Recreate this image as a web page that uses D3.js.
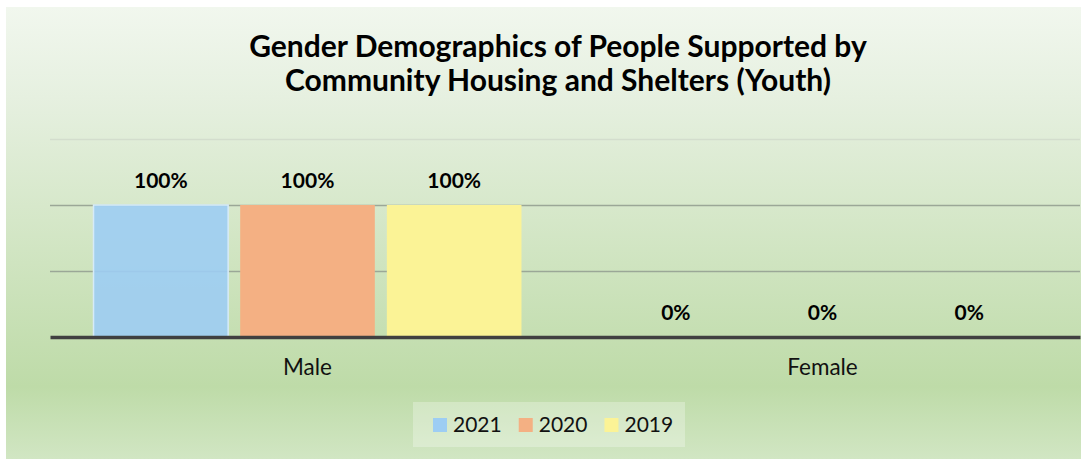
<!DOCTYPE html>
<html>
<head>
<meta charset="utf-8">
<script src="https://cdn.jsdelivr.net/npm/d3@7"></script>
<style>
  body { margin: 0; background: #ffffff; }
  svg text { font-family: Lato, "Open Sans", sans-serif; }
</style>
</head>
<body>
<svg id="chart" width="1081" height="459"></svg>
<script>
// Chart data
const categories = ["Male", "Female"];
const seriesNames = ["2021", "2020", "2019"];
const values2021 = [1, 0];
const values2020 = [1, 0];
const values2019 = [1, 0];
const yTicks = [0, 0.5, 1, 1.5];
const titleLines = [
  "Gender Demographics of People Supported by",
  "Community Housing and Shelters (Youth)"
];

const seriesValues = [values2021, values2020, values2019];
const seriesColors = ["#9dcdf3", "#f4b083", "#fbf396"];

const svg = d3.select("#chart");
const W = 1081, H = 459;

// Background panel with vertical green gradient
const defs = svg.append("defs");
const grad = defs.append("linearGradient")
  .attr("id", "bg").attr("x1", 0).attr("y1", 0).attr("x2", 0).attr("y2", 1);
grad.append("stop").attr("offset", "0%").attr("stop-color", "#f1f7ee");
grad.append("stop").attr("offset", "20%").attr("stop-color", "#e6f0e0");
grad.append("stop").attr("offset", "84%").attr("stop-color", "#bedba8");
grad.append("stop").attr("offset", "100%").attr("stop-color", "#d1e6c3");

svg.append("rect")
  .attr("x", 6).attr("y", 7).attr("width", W - 6).attr("height", H - 7)
  .attr("fill", "url(#bg)");

// Plot geometry
const plot = { left: 50, right: 1080, top: 139, bottom: 337 };

const x0 = d3.scaleBand()
  .domain(categories)
  .range([plot.left, plot.right])
  .paddingInner(0.169)
  .paddingOuter(0.0845);

const x1 = d3.scaleBand()
  .domain(seriesNames)
  .range([0, x0.bandwidth()])
  .paddingInner(0.082)
  .paddingOuter(0);

const y = d3.scaleLinear()
  .domain([0, 1.5])
  .range([plot.bottom, plot.top]);

// Horizontal gridlines
const grid = svg.append("g")
  .attr("transform", `translate(${plot.left},0)`)
  .call(d3.axisLeft(y).tickValues(yTicks).tickSize(-(plot.right - plot.left)).tickFormat(""));
grid.select(".domain").remove();
grid.selectAll(".tick line")
  .attr("stroke", d => d === 1.5 ? "#d3ddcd" : "#9ba797")
  .attr("stroke-width", 1.5);
grid.selectAll(".tick").filter(d => d === 0).remove();

// Bars
const groups = svg.append("g").selectAll("g")
  .data(categories)
  .join("g")
  .attr("transform", d => `translate(${x0(d)},0)`);

groups.selectAll("rect")
  .data((c, ci) => seriesNames.map((s, si) => ({ s, si, v: seriesValues[si][ci] })))
  .join("rect")
  .attr("x", d => x1(d.s))
  .attr("y", d => y(d.v))
  .attr("width", x1.bandwidth())
  .attr("height", d => y(0) - y(d.v))
  .attr("fill", d => seriesColors[d.si])
  .attr("fill-opacity", d => d.si === 0 ? 0.9 : 1)
  .attr("stroke", d => d.si === 0 ? "#d6ebf8" : "none")
  .attr("stroke-width", d => d.si === 0 ? 1.5 : 0);

// Value labels
groups.selectAll("text.val")
  .data((c, ci) => seriesNames.map((s, si) => ({ s, si, v: seriesValues[si][ci] })))
  .join("text")
  .attr("class", "val")
  .attr("x", d => x1(d.s) + x1.bandwidth() / 2)
  .attr("y", d => y(d.v) - 17)
  .attr("text-anchor", "middle")
  .attr("font-size", 21)
  .attr("font-weight", 700)
  .attr("fill", "#000")
  .text(d => d3.format(".0%")(d.v));

// Category axis with heavy baseline
const xAxis = svg.append("g")
  .attr("transform", `translate(0,${plot.bottom})`)
  .call(d3.axisBottom(x0).tickSize(0).tickPadding(22));
xAxis.select(".domain")
  .attr("stroke", "#404040")
  .attr("stroke-width", 3.5);
xAxis.selectAll("text")
  .attr("font-size", 22.5)
  .attr("fill", "#111")
  .style("font-family", "Lato, sans-serif");

// Title
svg.append("text")
  .attr("x", 558).attr("y", 57)
  .attr("text-anchor", "middle")
  .attr("font-size", 30).attr("font-weight", 700).attr("fill", "#000")
  .selectAll("tspan")
  .data(titleLines)
  .join("tspan")
  .attr("x", 558)
  .attr("dy", (d, i) => i === 0 ? 0 : 34)
  .text(d => d);

// Legend
const legend = svg.append("g");
legend.append("rect")
  .attr("x", 413).attr("y", 402).attr("width", 272).attr("height", 45)
  .attr("fill", "#ffffff").attr("fill-opacity", 0.28);

let lx = 433;
seriesNames.forEach((s, i) => {
  legend.append("rect")
    .attr("x", lx).attr("y", 418).attr("width", 14).attr("height", 14)
    .attr("fill", seriesColors[i]);
  const t = legend.append("text")
    .attr("x", lx + 20).attr("y", 432)
    .attr("font-size", 21).attr("fill", "#111")
    .text(s);
  lx += 20 + t.node().getComputedTextLength() + 17;
});
</script>
</body>
</html>
